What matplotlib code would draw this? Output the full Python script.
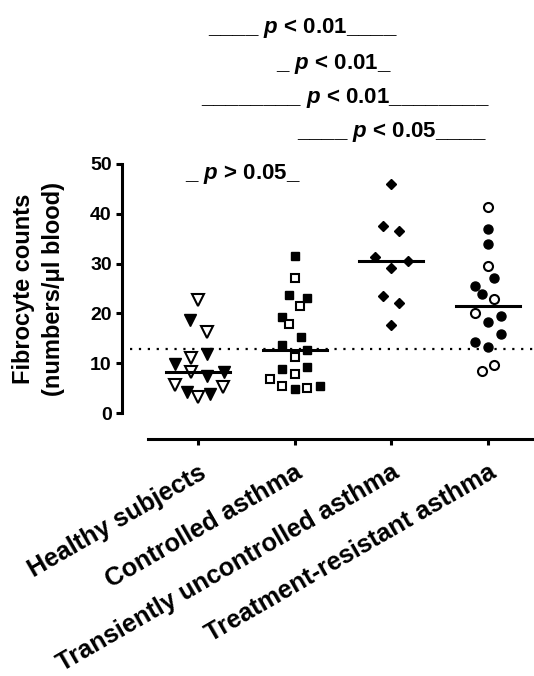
import numpy as np
import matplotlib
matplotlib.use("Agg")
import matplotlib.pyplot as plt

plt.rcParams['font.family'] = ['Liberation Sans', 'DejaVu Sans']
plt.rcParams['font.weight'] = 'bold'
plt.rcParams['mathtext.fontset'] = 'custom'
plt.rcParams['mathtext.it'] = 'Liberation Sans:italic:bold'
plt.rcParams['mathtext.rm'] = 'Liberation Sans:bold'

groups = ["Healthy subjects", "Controlled asthma",
          "Transiently uncontrolled asthma", "Treatment-resistant asthma"]

# fibrocyte counts per subject (numbers/ul blood), open = hollow marker
healthy = [22.7, 18.7, 16.2, 11.8, 11.0, 9.8, 8.3, 7.4, 8.3, 5.6, 4.3, 3.3, 3.8, 5.3]
healthy_open = [1, 0, 1, 0, 1, 0, 1, 0, 0, 1, 0, 1, 0, 1]
healthy_dx = [0, -0.08, 0.09, 0.09, -0.07, -0.24, -0.07, 0.09, 0.27, -0.24, -0.11, 0, 0.12, 0.26]

controlled = [31.5, 27.1, 23.7, 23.1, 21.5, 19.3, 17.8, 15.3, 13.7, 12.65,
              11.2, 8.8, 9.3, 7.8, 6.8, 5.4, 4.8, 5.1, 5.5]
controlled_open = [0, 1, 0, 0, 1, 0, 1, 0, 0, 0, 1, 0, 0, 1, 1, 1, 0, 1, 0]
controlled_dx = [0, 0, -0.06, 0.13, 0.06, -0.13, -0.06, 0.07, -0.13, 0.13,
                 0, -0.13, 0.13, 0, -0.26, -0.13, 0, 0.13, 0.26]

transient = [46.0, 37.6, 36.5, 31.4, 30.6, 29.1, 23.5, 22.0, 17.7]
transient_open = [0, 0, 0, 0, 0, 0, 0, 0, 0]
transient_dx = [0, -0.09, 0.08, -0.17, 0.17, 0, -0.09, 0.08, 0]

resistant = [41.4, 36.9, 33.9, 29.6, 27.2, 25.6, 23.9, 22.8, 20.1, 19.5,
             18.3, 15.9, 14.3, 13.3, 9.6, 8.5]
resistant_open = [1, 0, 0, 1, 0, 0, 0, 1, 1, 0, 0, 0, 0, 0, 1, 1]
resistant_dx = [0, 0, 0, 0, 0.06, -0.13, -0.06, 0.06, -0.13, 0.13,
                0, 0.13, -0.13, 0, 0.06, -0.06]

threshold = 12.85

p_labels = ["____ $p$ < 0.01____", "_ $p$ < 0.01_", "________ $p$ < 0.01________",
            "____ $p$ < 0.05____", "_ $p$ > 0.05_"]
p_x = [2.09, 2.41, 2.53, 3.01, 1.46]
p_y = [76.3, 69.1, 62.2, 55.4, 47.0]

fig = plt.figure(figsize=(5.34, 6.76), dpi=100)
ax = fig.add_axes([122 / 534, 263 / 676, 412 / 534, 249 / 676])

series = [
    (healthy, healthy_open, healthy_dx, 'v', 8.5),
    (controlled, controlled_open, controlled_dx, 's', 6.0),
    (transient, transient_open, transient_dx, 'D', 5.5),
    (resistant, resistant_open, resistant_dx, 'o', 6.5),
]

for i, (vals, hollow, dx, marker, ms) in enumerate(series):
    pos = i + 1
    x = pos + np.array(dx)
    y = np.array(vals)
    hollow = np.array(hollow, dtype=bool)
    ax.plot(x[~hollow], y[~hollow], ls='none', marker=marker, ms=ms,
            mfc='black', mec='black', mew=1.0, zorder=3, clip_on=False)
    ax.plot(x[hollow], y[hollow], ls='none', marker=marker, ms=ms,
            mfc='white', mec='black', mew=1.5, zorder=3, clip_on=False)
    med = np.median(y)
    ax.plot([pos - 0.33, pos + 0.33], [med, med], color='black', lw=2.2, zorder=4)

ax.plot([0.3, 4.48], [threshold, threshold], color='black', lw=1.6,
        ls=(0, (1, 3)), zorder=2, clip_on=False)

for s, x, y in zip(p_labels, p_x, p_y):
    ax.text(x, y, s, ha='center', va='baseline', fontsize=16, clip_on=False)

for side in ['top', 'right']:
    ax.spines[side].set_visible(False)
ax.spines['left'].set_linewidth(2.2)
ax.spines['bottom'].set_linewidth(2.2)
ax.spines['left'].set_bounds(0, 50)
ax.spines['bottom'].set_position(('outward', 18.7))
ax.spines['bottom'].set_bounds(0.483, 4.476)

ax.tick_params(axis='both', width=2.2, length=4.3, color='black')
ax.tick_params(axis='y', labelsize=14, pad=3)
ax.tick_params(axis='x', pad=11)

ax.set_xlim(0.214, 4.476)
ax.set_ylim(0, 50)
ax.set_yticks([0, 10, 20, 30, 40, 50])
ax.set_xticks([1, 2, 3, 4])
ax.set_xticklabels(groups, rotation=30, ha='right', rotation_mode='anchor',
                   fontsize=18.3, fontweight='bold')

ax.set_ylabel("Fibrocyte counts\n(numbers/μl blood)", fontsize=17,
              fontweight='bold', linespacing=1.38, labelpad=18)

fig.savefig("out.png", dpi=100)
